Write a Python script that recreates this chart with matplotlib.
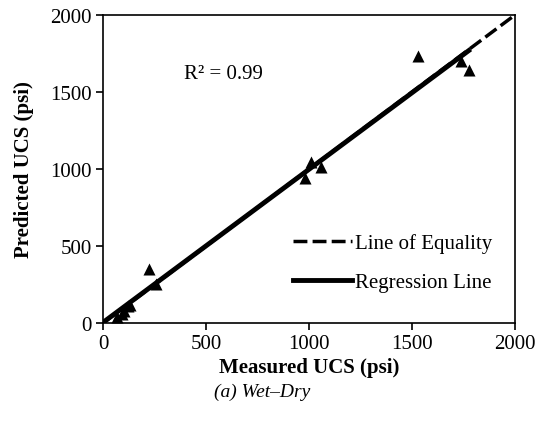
import numpy as np
import matplotlib
matplotlib.use("Agg")
import matplotlib.pyplot as plt

plt.rcParams["font.family"] = ["Liberation Serif", "DejaVu Serif"]

# Measured vs predicted UCS (psi)
measured = [70, 90, 100, 120, 130, 225, 255, 980, 1010, 1060, 1530, 1740, 1775]
predicted = [40, 60, 80, 110, 120, 350, 255, 940, 1045, 1010, 1735, 1700, 1640]

ticks = [0, 500, 1000, 1500, 2000]
r2_label = "R² = 0.99"
caption = "(a) Wet–Dry"

x = np.array(measured, dtype=float)
y = np.array(predicted, dtype=float)

fig = plt.figure(figsize=(5.45, 4.31), dpi=100)
ax = fig.add_axes([0.189, 0.248, 0.756, 0.715])

ax.scatter(x, y, marker="^", s=75, color="black", zorder=3, linewidths=0)

# line of equality
ax.plot([0, 2000], [0, 2000], "--", color="black", lw=2.5,
        dashes=(4, 1.5), label="Line of Equality")

# regression line through the data
m, q = np.polyfit(x, y, 1)
xr = np.array([0, x.max()])
ax.plot(xr, m * xr + q, "-", color="black", lw=3.5, label="Regression Line")

ax.text(393, 1617, r2_label, fontsize=15, va="center")

ax.set_xlim(0, 2000)
ax.set_ylim(0, 2000)
ax.set_xticks(ticks)
ax.set_yticks(ticks)
ax.tick_params(direction="out", length=5, width=1.2, labelsize=15, pad=3)
for s in ax.spines.values():
    s.set_linewidth(1.2)

ax.set_xlabel("Measured UCS (psi)", fontsize=15, fontweight="bold", labelpad=3)
ax.set_ylabel("Predicted UCS (psi)", fontsize=15, fontweight="bold", labelpad=12)

ax.legend(loc="center left", bbox_to_anchor=(0.461, 0.196), frameon=False,
          fontsize=15, handlelength=2.85, handletextpad=0.15,
          labelspacing=0.95, borderpad=0, borderaxespad=0)

fig.text(0.481, 1 - 392 / 431, caption, fontsize=14, style="italic",
         ha="center", va="center")

fig.savefig("out.png", dpi=100)
